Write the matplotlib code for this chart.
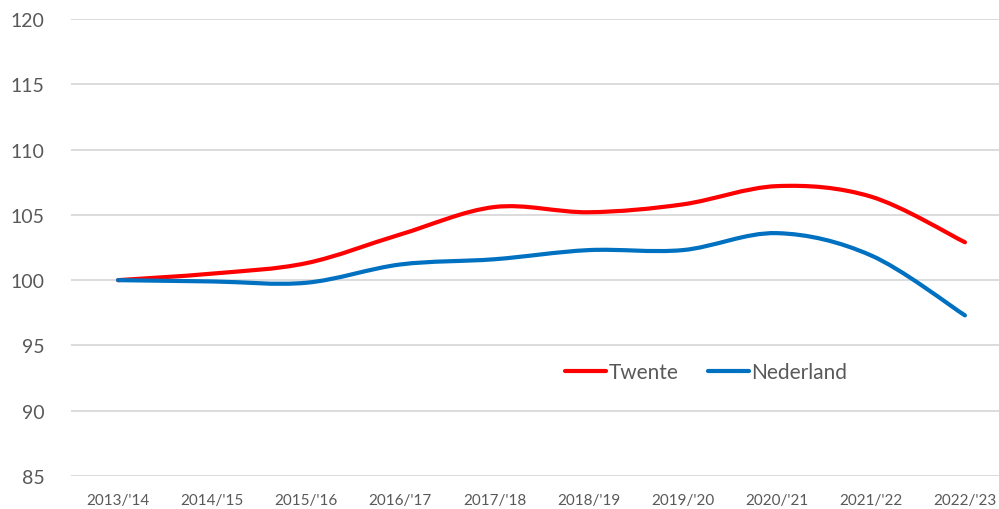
import numpy as np
import matplotlib.pyplot as plt
from matplotlib.path import Path
from matplotlib.patches import PathPatch

# --- data ---
seasons = ["2013/'14", "2014/'15", "2015/'16", "2016/'17", "2017/'18",
           "2018/'19", "2019/'20", "2020/'21", "2021/'22", "2022/'23"]
twente = [100.0, 100.5, 101.3, 103.5, 105.6, 105.2, 105.8, 107.2, 106.4, 102.9]
nederland = [100.0, 99.9, 99.8, 101.2, 101.6, 102.3, 102.3, 103.6, 101.9, 97.3]

RED = "#FF0000"
BLUE = "#0070C0"
GREY = "#595959"

plt.rcParams["font.family"] = ["Lato", "DejaVu Sans"]


def smooth_path(xs, ys):
    """Excel-achtige gladde lijn: Bezier-segmenten door alle punten."""
    pts = np.column_stack([xs, ys]).astype(float)
    n = len(pts)
    verts = [pts[0]]
    codes = [Path.MOVETO]
    for i in range(n - 1):
        p0 = pts[i - 1] if i > 0 else pts[i]
        p1 = pts[i]
        p2 = pts[i + 1]
        p3 = pts[i + 2] if i + 2 < n else pts[i + 1]
        c1 = p1 + (p2 - p0) / 6.0
        c2 = p2 - (p3 - p1) / 6.0
        verts += [c1, c2, p2]
        codes += [Path.CURVE4] * 3
    return Path(verts, codes)


fig = plt.figure(figsize=(9.99, 5.10), dpi=100)
ax = fig.add_axes([71 / 999, 33 / 510, 941 / 999, 457 / 510])

x = np.arange(len(seasons))
for vals, col, name in [(twente, RED, "Twente"), (nederland, BLUE, "Nederland")]:
    patch = PathPatch(smooth_path(x, vals), facecolor="none", edgecolor=col,
                      lw=3.0, capstyle="round", zorder=3)
    ax.add_patch(patch)
    ax.plot([], [], color=col, lw=3.0, solid_capstyle="round", label=name)

ax.set_xlim(-0.5, 9.5)
ax.set_ylim(85, 120)
ax.set_yticks(np.arange(85, 121, 5))
ax.set_xticks(x)
ax.set_xticklabels(seasons)
ax.grid(axis="y", color="#d9d9d9", lw=1.3)
ax.set_axisbelow(True)
for s in ax.spines.values():
    s.set_visible(False)
ax.tick_params(axis="both", length=0, colors=GREY)
ax.tick_params(axis="y", labelsize=14, pad=19)
ax.tick_params(axis="x", labelsize=11, pad=12)

ax.legend(loc="center", bbox_to_anchor=(706 / 999, 1 - 373 / 510),
          bbox_transform=fig.transFigure, ncol=2, frameon=False,
          fontsize=15, labelcolor=GREY, handlelength=2.0, handletextpad=0.1,
          columnspacing=1.4)

plt.savefig("out.png", dpi=100)
